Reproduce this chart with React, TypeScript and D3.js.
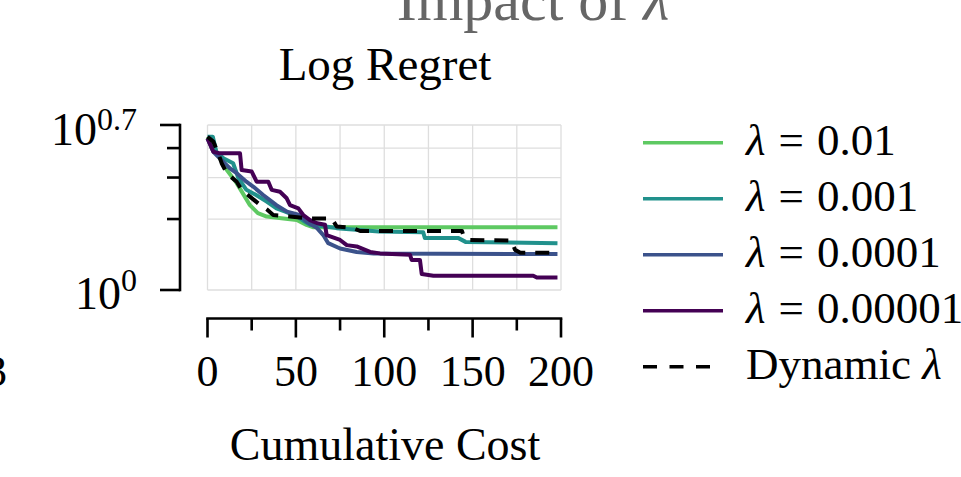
import React from "react";
import * as d3 from "d3";

// Best-so-far regret against cumulative cost for each regularisation weight.
const costMax = 200;
const yMin = 1;
const yMax = Math.pow(10, 0.7);

const lam001: [number, number][] = [
  [0, 4.46], [5, 3.86], [10, 3.3], [16.5, 2.84], [20, 2.57], [24, 2.29], [28.5, 2.12],
  [33.5, 2.05], [43, 2.01], [50.5, 1.98], [56, 1.89], [60, 1.845], [198, 1.845],
];
const lam0001: [number, number][] = [
  [0, 4.47], [3, 4.47], [5, 3.86], [9, 3.62], [14.5, 3.45], [17.5, 2.98], [22, 2.66],
  [27.5, 2.53], [33.5, 2.37], [39, 2.22], [44, 2.15], [51, 2.05], [55, 1.95], [58, 1.89],
  [67, 1.86], [73, 1.83], [97, 1.77], [122, 1.76], [123, 1.66], [142, 1.66], [146, 1.6],
  [198, 1.58],
];
const lam00001: [number, number][] = [
  [0, 4.4], [3.3, 3.86], [7, 3.62], [12.7, 3.28], [16.5, 3.13], [22, 2.88], [26, 2.74],
  [31.5, 2.53], [39, 2.29], [45, 2.15], [52, 2.08], [56, 1.95], [62, 1.83], [65.5, 1.71],
  [68.3, 1.58], [75, 1.5], [84.4, 1.45], [94, 1.43], [198, 1.42],
];
const lam000001: [number, number][] = [
  [0, 4.4], [3.3, 3.86], [7, 3.8], [18.4, 3.8], [19.3, 3.23], [25, 3.18], [27.8, 2.88],
  [34.4, 2.88], [36.3, 2.66], [41, 2.61], [44.8, 2.45], [46.7, 2.29], [51.4, 2.22],
  [54.2, 2.08], [58, 1.98], [62, 1.92], [66.5, 1.89], [67.4, 1.71], [75, 1.63],
  [78.8, 1.55], [84.4, 1.53], [92, 1.45], [97.6, 1.43], [114.6, 1.41], [115.5, 1.34],
  [120.2, 1.34], [121.2, 1.17], [127.8, 1.15], [184.3, 1.15], [186.3, 1.13], [198, 1.13],
];
const lamDynamic: [number, number][] = [
  [0, 4.47], [3.3, 4.26], [6.1, 3.8], [8, 3.45], [10.9, 3.13], [16.5, 2.88], [19.3, 2.66],
  [24, 2.49], [28.7, 2.33], [33.5, 2.2], [37.2, 2.08], [46.7, 2.05], [58, 2.01],
  [70.3, 2.01], [73.1, 1.86], [82.5, 1.83], [86.3, 1.78], [144, 1.78], [144.7, 1.71],
  [148.5, 1.63], [172, 1.62], [174, 1.48], [177, 1.44], [197, 1.44],
];

const seriesNames = ["λ = 0.01", "λ = 0.001", "λ = 0.0001", "λ = 0.00001", "Dynamic λ"];
const seriesColors = ["#5ec962", "#21918c", "#3b528b", "#440154", "#000000"];
const seriesData = [lam001, lam0001, lam00001, lam000001, lamDynamic];

const xMajorTicks = [0, 50, 100, 150, 200];
const xMinorTicks = [25, 75, 125, 175];
const yMinorTicks = [2, 3, 4];

const FONT = "'Liberation Serif', 'Times New Roman', serif";

export default function App() {
  const x = d3.scaleLinear().domain([0, costMax]).range([207.5, 561]);
  const y = d3.scaleLog().domain([yMin, yMax]).range([290, 125]);
  const line = d3
    .line<[number, number]>()
    .x((d) => x(d[0]))
    .y((d) => y(d[1]));

  const gridX = [...xMajorTicks, ...xMinorTicks];
  const gridY = [yMin, ...yMinorTicks, yMax];
  const xAxisY = 318.5;
  const yAxisX = 180;

  return (
    <svg
      width={961}
      height={477}
      style={{ position: "absolute", left: 0, top: 0, background: "#fff" }}
      fontFamily={FONT}
    >
      <text x={533} y={20} fontSize={60} fill="#666" textAnchor="middle">
        Impact of <tspan fontStyle="italic">λ</tspan>
      </text>
      <text x={385} y={80} fontSize={47} textAnchor="middle">
        Log Regret
      </text>

      {/* grid */}
      <g stroke="#dedede" strokeWidth={1.3}>
        {gridX.map((t) => (
          <line key={"gx" + t} x1={x(t)} x2={x(t)} y1={y(yMax)} y2={y(yMin)} />
        ))}
        {gridY.map((t) => (
          <line key={"gy" + t} x1={x(0)} x2={x(costMax)} y1={y(t)} y2={y(t)} />
        ))}
      </g>

      {/* series */}
      {seriesData.map((d, i) => (
        <path
          key={seriesNames[i]}
          d={line(d) || ""}
          fill="none"
          stroke={seriesColors[i]}
          strokeWidth={4}
          strokeDasharray={i === 4 ? "14,10" : undefined}
          strokeLinejoin="round"
        />
      ))}

      {/* y axis */}
      <g stroke="#000" strokeWidth={2.6}>
        <line x1={yAxisX} x2={yAxisX} y1={y(yMax)} y2={y(yMin)} strokeLinecap="square" />
        {[yMin, yMax].map((t) => (
          <line key={"ym" + t} x1={yAxisX - 20} x2={yAxisX} y1={y(t)} y2={y(t)} />
        ))}
        {yMinorTicks.map((t) => (
          <line key={"yn" + t} x1={yAxisX - 13} x2={yAxisX} y1={y(t)} y2={y(t)} />
        ))}
      </g>
      <text x={137} y={y(yMax) + 20} fontSize={46} textAnchor="end">
        10
        <tspan fontSize={32} dy={-15}>0.7</tspan>
      </text>
      <text x={137} y={y(yMin) + 19} fontSize={46} textAnchor="end">
        10
        <tspan fontSize={32} dy={-18}>0</tspan>
      </text>

      {/* x axis */}
      <g stroke="#000" strokeWidth={2.6}>
        <line x1={x(0)} x2={x(costMax)} y1={xAxisY} y2={xAxisY} strokeLinecap="square" />
        {xMajorTicks.map((t) => (
          <line key={"xm" + t} x1={x(t)} x2={x(t)} y1={xAxisY} y2={xAxisY + 19} />
        ))}
        {xMinorTicks.map((t) => (
          <line key={"xn" + t} x1={x(t)} x2={x(t)} y1={xAxisY} y2={xAxisY + 12} />
        ))}
      </g>
      {xMajorTicks.map((t) => (
        <text key={"xl" + t} x={x(t)} y={386} fontSize={44} textAnchor="middle">
          {t}
        </text>
      ))}
      <text x={7} y={386} fontSize={44} textAnchor="end">
        3
      </text>
      <text x={385} y={460} fontSize={46} textAnchor="middle">
        Cumulative Cost
      </text>

      {/* legend */}
      {seriesNames.map((name, i) => {
        const ly = 142.7 + i * 56;
        const isDyn = i === 4;
        return (
          <g key={"lg" + name}>
            <line
              x1={643}
              x2={isDyn ? 716 : 723}
              y1={ly}
              y2={ly}
              stroke={seriesColors[i]}
              strokeWidth={3.5}
              strokeDasharray={isDyn ? "14,12.5" : undefined}
            />
            {isDyn ? (
              <text x={746} y={ly + 12} fontSize={45}>
                Dynamic <tspan fontStyle="italic">λ</tspan>
              </text>
            ) : (
              <text x={746} y={ly + 12} fontSize={45}>
                <tspan fontStyle="italic">λ</tspan>
                <tspan dx={13}>=</tspan>
                <tspan dx={13}>{name.split("= ")[1]}</tspan>
              </text>
            )}
          </g>
        );
      })}
    </svg>
  );
}
